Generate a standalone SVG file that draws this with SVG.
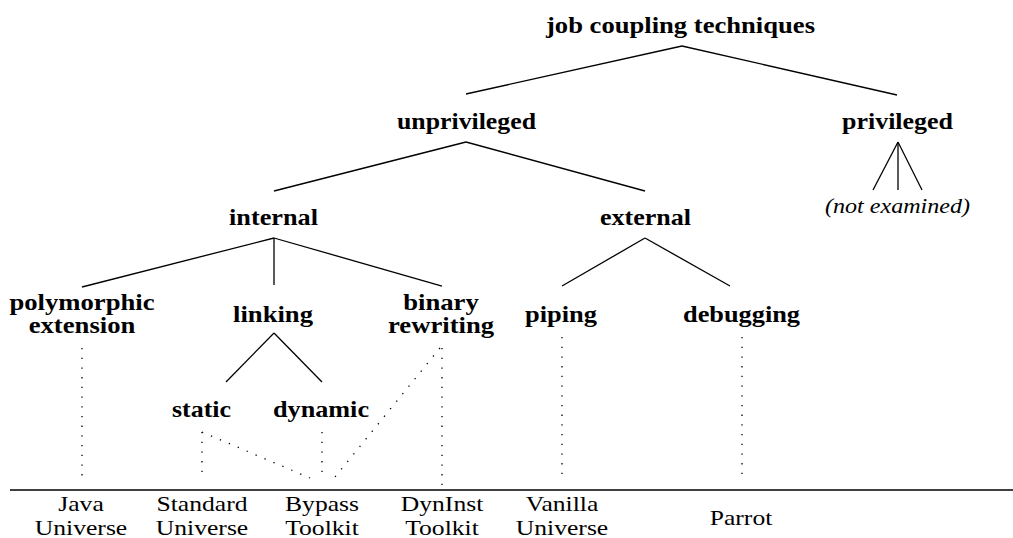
<svg xmlns="http://www.w3.org/2000/svg" width="1013" height="538" viewBox="0 0 1013 538">
<style>
  text { font-family: "Liberation Serif", "Times New Roman", Times, serif; fill: #000; }
  .b { font-weight: bold; font-size: 23px; }
  .r { font-size: 21px; text-anchor: middle; }
  .bm { font-weight: bold; font-size: 23px; text-anchor: middle; }
  .i { font-style: italic; font-size: 21px; }
  .e { stroke: #000; stroke-width: 1.3; fill: none; }
  .d { stroke: #000; stroke-width: 1.3; fill: none; stroke-dasharray: 1.3 8.4; }
</style>
<rect width="1013" height="538" fill="#fff"/>
<g id="connectors">
  <line class="e" x1="682" y1="46" x2="466" y2="94"/>
  <line class="e" x1="682" y1="46" x2="897" y2="95"/>
  <line class="e" x1="466" y1="142" x2="274" y2="191"/>
  <line class="e" x1="466" y1="142" x2="645" y2="191"/>
  <line class="e" x1="898" y1="142" x2="873" y2="190"/>
  <line class="e" x1="898" y1="142" x2="898" y2="190"/>
  <line class="e" x1="898" y1="142" x2="922" y2="190"/>
  <line class="e" x1="274" y1="238" x2="82" y2="287"/>
  <line class="e" x1="274" y1="238" x2="274" y2="285"/>
  <line class="e" x1="274" y1="238" x2="442" y2="286"/>
  <line class="e" x1="645" y1="238" x2="562" y2="286"/>
  <line class="e" x1="645" y1="238" x2="730" y2="286"/>
  <line class="e" x1="274" y1="333" x2="226" y2="382"/>
  <line class="e" x1="274" y1="333" x2="322" y2="382"/>
  <line class="d" x1="82" y1="348" x2="82" y2="476"/>
  <line class="d" x1="202" y1="432" x2="202" y2="476"/>
  <line class="d" x1="202" y1="432" x2="310" y2="478"/>
  <line class="d" x1="322" y1="432" x2="322" y2="476"/>
  <line class="d" x1="440" y1="348" x2="335" y2="477"/>
  <line class="d" x1="442" y1="348" x2="442" y2="486"/>
  <line class="d" x1="562" y1="337" x2="562" y2="474"/>
  <line class="d" x1="742" y1="337" x2="742" y2="474"/>
</g>
<g id="baseline">
  <line class="e" x1="10" y1="490" x2="1013" y2="490"/>
</g>
<g id="n-root"><text class="b" x="546" y="33" textLength="269" lengthAdjust="spacingAndGlyphs">job coupling techniques</text></g>
<g id="n-unprivileged"><text class="b" x="397" y="129" textLength="139" lengthAdjust="spacingAndGlyphs">unprivileged</text></g>
<g id="n-privileged"><text class="b" x="842" y="129" textLength="111" lengthAdjust="spacingAndGlyphs">privileged</text></g>
<g id="n-notexamined"><text class="i" x="825" y="213" textLength="145" lengthAdjust="spacingAndGlyphs">(not examined)</text></g>
<g id="n-internal"><text class="b" x="229" y="225" textLength="89" lengthAdjust="spacingAndGlyphs">internal</text></g>
<g id="n-external"><text class="b" x="600" y="225" textLength="91" lengthAdjust="spacingAndGlyphs">external</text></g>
<g id="n-polymorphic">
  <text class="bm" transform="translate(82,0) scale(1.16,1)"><tspan x="0" y="310">polymorphic</tspan><tspan x="0" y="333">extension</tspan></text>
</g>
<g id="n-linking"><text class="b" x="233" y="322" textLength="80" lengthAdjust="spacingAndGlyphs">linking</text></g>
<g id="n-binary">
  <text class="bm" transform="translate(441,0) scale(1.16,1)"><tspan x="0" y="310">binary</tspan><tspan x="0" y="333">rewriting</tspan></text>
</g>
<g id="n-piping"><text class="b" x="525" y="322" textLength="72" lengthAdjust="spacingAndGlyphs">piping</text></g>
<g id="n-debugging"><text class="b" x="683" y="322" textLength="117" lengthAdjust="spacingAndGlyphs">debugging</text></g>
<g id="n-static"><text class="b" x="172" y="417" textLength="59" lengthAdjust="spacingAndGlyphs">static</text></g>
<g id="n-dynamic"><text class="b" x="273" y="417" textLength="96" lengthAdjust="spacingAndGlyphs">dynamic</text></g>
<g id="n-java">
  <text class="r" transform="translate(81,0) scale(1.22,1)"><tspan x="0" y="511">Java</tspan><tspan x="0" y="535">Universe</tspan></text>
</g>
<g id="n-standard">
  <text class="r" transform="translate(202,0) scale(1.22,1)"><tspan x="0" y="511">Standard</tspan><tspan x="0" y="535">Universe</tspan></text>
</g>
<g id="n-bypass">
  <text class="r" transform="translate(322,0) scale(1.22,1)"><tspan x="0" y="511">Bypass</tspan><tspan x="0" y="535">Toolkit</tspan></text>
</g>
<g id="n-dyninst">
  <text class="r" transform="translate(442,0) scale(1.22,1)"><tspan x="0" y="511">DynInst</tspan><tspan x="0" y="535">Toolkit</tspan></text>
</g>
<g id="n-vanilla">
  <text class="r" transform="translate(562,0) scale(1.22,1)"><tspan x="0" y="511">Vanilla</tspan><tspan x="0" y="535">Universe</tspan></text>
</g>
<g id="n-parrot"><text class="r" transform="translate(741,0) scale(1.22,1)" x="0" y="525">Parrot</text></g>
</svg>
